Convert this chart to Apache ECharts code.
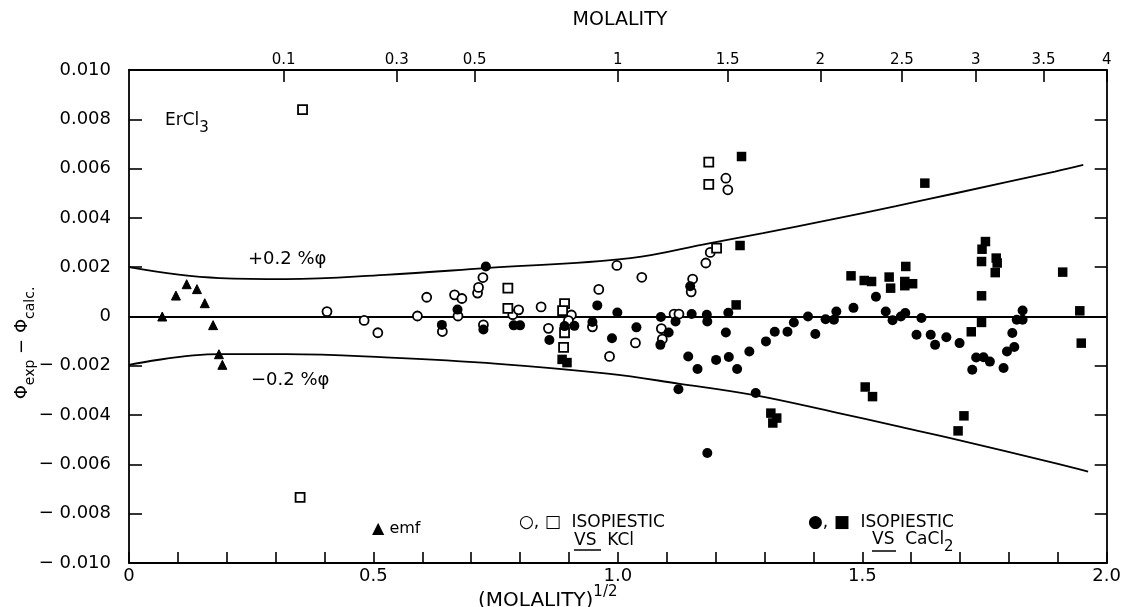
<!DOCTYPE html>
<html>
<head>
<meta charset="utf-8">
<script src="https://cdn.jsdelivr.net/npm/echarts@6/dist/echarts.min.js"></script>
<style>
html,body{margin:0;padding:0;background:#fff;}
#chart{width:1124px;height:607px;}
</style>
</head>
<body>
<div id="chart"></div>
<script>
// ---- data: x = (molality)^1/2, y = phi_exp - phi_calc ----
var topTickMolality = [0.1, 0.3, 0.5, 1, 1.5, 2, 2.5, 3, 3.5, 4];
var topTickLabels = ['0.1', '0.3', '0.5', '1', '1.5', '2', '2.5', '3', '3.5', '4'];

var upperBandX = [0, 0.185, 0.321, 0.524, 0.728, 1.026, 1.189, 1.297, 1.433, 1.569, 1.691, 1.894, 1.952];
var upperBandY = [0.00200, 0.00156, 0.00152, 0.00169, 0.00196, 0.00237, 0.00298, 0.00338, 0.00392, 0.00448, 0.00500, 0.00588, 0.00615];
var lowerBandX = [0, 0.185, 0.321, 0.524, 0.755, 0.979, 1.124, 1.282, 1.447, 1.569, 1.691, 1.894, 1.962];
var lowerBandY = [-0.00196, -0.00153, -0.00153, -0.00166, -0.00192, -0.00232, -0.00272, -0.00320, -0.00390, -0.00444, -0.00498, -0.00595, -0.00629];

var emfPoints = [
  [0.068, 0.00000], [0.096, 0.00085], [0.118, 0.00131], [0.139, 0.00111],
  [0.155, 0.00054], [0.172, -0.00035], [0.184, -0.00153], [0.191, -0.00196]
];

var kclCircles = [
  [0.405, 0.00020], [0.481, -0.00016], [0.509, -0.00066], [0.590, 0.00002],
  [0.609, 0.00078], [0.666, 0.00088], [0.681, 0.00073], [0.673, 0.00002],
  [0.641, -0.00061], [0.713, 0.00095], [0.715, 0.00118], [0.724, 0.00158],
  [0.725, -0.00034], [0.785, 0.00007], [0.797, 0.00027], [0.843, 0.00039],
  [0.858, -0.00048], [0.905, 0.00006], [0.899, -0.00017], [0.961, 0.00110],
  [0.948, -0.00042], [0.983, -0.00162], [0.998, 0.00207], [1.049, 0.00159],
  [1.036, -0.00107], [1.089, -0.00049], [1.091, -0.00092], [1.115, 0.00010],
  [1.125, 0.00010], [1.153, 0.00152], [1.150, 0.00100], [1.180, 0.00217],
  [1.189, 0.00260], [1.221, 0.00561], [1.225, 0.00514]
];

var kclSquares = [
  [0.355, 0.00839], [0.350, -0.00734], [0.775, 0.00115], [0.775, 0.00033],
  [0.891, 0.00052], [0.887, 0.00024], [0.891, -0.00066], [0.889, -0.00125],
  [1.202, 0.00277], [1.186, 0.00626], [1.186, 0.00536]
];

var cacl2Circles = [
  [0.730, 0.00203], [0.640, -0.00034], [0.672, 0.00028], [0.725, -0.00053],
  [0.787, -0.00036], [0.800, -0.00036], [0.860, -0.00095], [0.891, -0.00039],
  [0.911, -0.00038], [0.958, 0.00045], [0.948, -0.00022], [0.988, -0.00088],
  [0.999, 0.00016], [1.038, -0.00044], [1.088, -0.00002], [1.118, -0.00020],
  [1.104, -0.00065], [1.087, -0.00115], [1.148, 0.00123], [1.151, 0.00010],
  [1.182, 0.00007], [1.183, -0.00020], [1.226, 0.00015], [1.221, -0.00065],
  [1.144, -0.00162], [1.163, -0.00213], [1.201, -0.00176], [1.227, -0.00164],
  [1.244, -0.00213], [1.269, -0.00142], [1.303, -0.00101], [1.321, -0.00062],
  [1.347, -0.00062], [1.360, -0.00024], [1.389, 0.00000], [1.404, -0.00071],
  [1.425, -0.00011], [1.442, -0.00013], [1.447, 0.00020], [1.482, 0.00035],
  [1.528, 0.00080], [1.548, 0.00020], [1.562, -0.00015], [1.579, 0.00000],
  [1.588, 0.00014], [1.621, -0.00006], [1.611, -0.00074], [1.640, -0.00074],
  [1.649, -0.00115], [1.672, -0.00084], [1.699, -0.00108], [1.733, -0.00166],
  [1.748, -0.00165], [1.761, -0.00183], [1.725, -0.00216], [1.789, -0.00209],
  [1.796, -0.00142], [1.811, -0.00124], [1.807, -0.00067], [1.816, -0.00013],
  [1.828, -0.00013], [1.828, 0.00024], [1.124, -0.00295], [1.282, -0.00310],
  [1.183, -0.00554]
];

var cacl2Squares = [
  [1.250, 0.00288], [1.253, 0.00649], [1.242, 0.00047], [0.886, -0.00174],
  [0.896, -0.00187], [1.313, -0.00392], [1.325, -0.00412], [1.317, -0.00432],
  [1.628, 0.00541], [1.477, 0.00165], [1.504, 0.00146], [1.519, 0.00142],
  [1.555, 0.00160], [1.558, 0.00115], [1.589, 0.00203], [1.587, 0.00142],
  [1.603, 0.00133], [1.587, 0.00125], [1.723, -0.00062], [1.744, -0.00024],
  [1.744, 0.00084], [1.744, 0.00223], [1.745, 0.00273], [1.752, 0.00304],
  [1.774, 0.00237], [1.776, 0.00217], [1.772, 0.00178], [1.910, 0.00180],
  [1.945, 0.00023], [1.948, -0.00108], [1.506, -0.00286], [1.521, -0.00325],
  [1.708, -0.00403], [1.696, -0.00464]
];

function zip(xs, ys) { return xs.map(function (x, i) { return [x, ys[i]]; }); }

var FONT = 'DejaVu Sans';
var axisLineStyle = { color: '#000', width: 1.8 };
var tickStyle = { color: '#000', width: 1.6 };

var chart = echarts.init(document.getElementById('chart'), null, { renderer: 'canvas' });

var option = {
  backgroundColor: '#fff',
  animation: false,
  grid: { left: 129, right: 12, top: 70, bottom: 44, containLabel: false },
  xAxis: [
    {
      type: 'value', position: 'bottom', min: 0, max: 2, interval: 0.5,
      axisLine: { show: true, onZero: false, lineStyle: axisLineStyle },
      axisTick: { show: true, inside: true, length: 11, lineStyle: tickStyle },
      minorTick: { show: true, splitNumber: 5, length: 11, lineStyle: tickStyle },
      splitLine: { show: false },
      axisLabel: {
        color: '#000', fontFamily: FONT, fontSize: 18, margin: 4,
        formatter: function (v) { return v === 0 ? '0' : v.toFixed(1); }
      }
    },
    {
      type: 'value', position: 'top', min: 0, max: 2,
      axisLine: { show: true, onZero: false, lineStyle: axisLineStyle },
      axisTick: { show: true, inside: true, length: 12, lineStyle: tickStyle,
        customValues: topTickMolality.map(Math.sqrt) },
      splitLine: { show: false },
      axisLabel: {
        color: '#000', fontFamily: FONT, fontSize: 15, margin: 2,
        customValues: topTickMolality.map(Math.sqrt),
        formatter: function (v) {
          for (var i = 0; i < topTickMolality.length; i++) {
            if (Math.abs(Math.sqrt(topTickMolality[i]) - v) < 1e-6) return topTickLabels[i];
          }
          return '';
        }
      }
    }
  ],
  yAxis: [
    {
      type: 'value', position: 'left', min: -0.01, max: 0.01, interval: 0.002,
      axisLine: { show: true, onZero: false, lineStyle: axisLineStyle },
      axisTick: { show: true, inside: true, length: 13, lineStyle: tickStyle },
      splitLine: { show: false },
      axisLabel: {
        color: '#000', fontFamily: FONT, fontSize: 18, margin: 18,
        formatter: function (v) {
          if (Math.abs(v) < 1e-9) return '0';
          return (v < 0 ? '\u2212 ' : '') + Math.abs(v).toFixed(3);
        }
      }
    },
    {
      type: 'value', position: 'right', min: -0.01, max: 0.01, interval: 0.002,
      axisLine: { show: true, onZero: false, lineStyle: axisLineStyle },
      axisTick: { show: true, inside: true, length: 12, lineStyle: tickStyle },
      splitLine: { show: false },
      axisLabel: { show: false }
    }
  ],
  series: [
    {
      name: '+0.2% phi', type: 'line', xAxisIndex: 0, yAxisIndex: 0,
      data: zip(upperBandX, upperBandY), smooth: 0.4, showSymbol: false, symbol: 'none',
      lineStyle: { color: '#000', width: 1.8 }, silent: true, z: 2,
      markLine: {
        silent: true, symbol: ['none', 'none'], label: { show: false },
        lineStyle: { color: '#000', width: 1.8, type: 'solid' },
        data: [{ yAxis: 0 }]
      }
    },
    {
      name: '-0.2% phi', type: 'line', xAxisIndex: 0, yAxisIndex: 0,
      data: zip(lowerBandX, lowerBandY), smooth: 0.4, showSymbol: false, symbol: 'none',
      lineStyle: { color: '#000', width: 1.8 }, silent: true, z: 2
    },
    {
      name: 'emf', type: 'scatter', data: emfPoints, symbol: 'triangle', symbolSize: 9,
      itemStyle: { color: '#000', borderColor: '#000', borderWidth: 1, opacity: 1 }, z: 5
    },
    {
      name: 'isopiestic vs KCl (circle)', type: 'scatter', data: kclCircles, symbol: 'circle', symbolSize: 9,
      itemStyle: { color: '#fff', borderColor: '#000', borderWidth: 1.8, opacity: 1 }, z: 5
    },
    {
      name: 'isopiestic vs KCl (square)', type: 'scatter', data: kclSquares, symbol: 'rect', symbolSize: 9,
      itemStyle: { color: '#fff', borderColor: '#000', borderWidth: 1.8, opacity: 1 }, z: 5
    },
    {
      name: 'isopiestic vs CaCl2 (circle)', type: 'scatter', data: cacl2Circles, symbol: 'circle', symbolSize: 10,
      itemStyle: { color: '#000', opacity: 1 }, z: 6
    },
    {
      name: 'isopiestic vs CaCl2 (square)', type: 'scatter', data: cacl2Squares, symbol: 'rect', symbolSize: 9.5,
      itemStyle: { color: '#000', opacity: 1 }, z: 6
    }
  ],
  graphic: [
    { type: 'text', x: 620, y: 20, style: { text: 'MOLALITY', fill: '#000', font: '19px ' + FONT, textAlign: 'center', textVerticalAlign: 'middle' } },
    { type: 'text', x: 478, y: 598, style: {
        text: '{a|(MOLALITY)}{s|1/2}', fill: '#000', textVerticalAlign: 'middle',
        rich: {
          a: { fontFamily: FONT, fontSize: 20, fill: '#000', lineHeight: 26, verticalAlign: 'bottom' },
          s: { fontFamily: FONT, fontSize: 15, fill: '#000', lineHeight: 26, verticalAlign: 'top' }
        } } },
    { type: 'text', x: 25, y: 343, rotation: Math.PI / 2, style: {
        text: '{a|\u03A6}{s|exp}{a| \u2212 \u03A6}{s|calc.}', fill: '#000',
        textAlign: 'center', textVerticalAlign: 'middle',
        rich: {
          a: { fontFamily: FONT, fontSize: 18, fill: '#000', lineHeight: 24, verticalAlign: 'top' },
          s: { fontFamily: FONT, fontSize: 14, fill: '#000', lineHeight: 24, verticalAlign: 'bottom' }
        } } },
    { type: 'text', x: 165, y: 124, style: {
        text: '{a|ErCl}{s|3}', fill: '#000', textVerticalAlign: 'middle',
        rich: {
          a: { fontFamily: FONT, fontSize: 17, fill: '#000', lineHeight: 24, verticalAlign: 'top' },
          s: { fontFamily: FONT, fontSize: 15, fill: '#000', lineHeight: 24, verticalAlign: 'bottom' }
        } } },
    { type: 'text', x: 248, y: 259, style: { text: '+0.2 %\u03C6', fill: '#000', font: '18px ' + FONT, textVerticalAlign: 'middle' } },
    { type: 'text', x: 251, y: 380, style: { text: '\u22120.2 %\u03C6', fill: '#000', font: '18px ' + FONT, textVerticalAlign: 'middle' } },
    { type: 'text', x: 372, y: 529, style: { text: '\u25B2 emf', fill: '#000', font: '16px ' + FONT, textVerticalAlign: 'middle' } },
    { type: 'text', x: 519, y: 523, style: { text: '\u25CB, \u25A1  ISOPIESTIC', fill: '#000', font: '17px ' + FONT, textVerticalAlign: 'middle' } },
    { type: 'text', x: 574, y: 541, style: { text: 'VS  KCl', fill: '#000', font: '17px ' + FONT, textVerticalAlign: 'middle' } },
    { type: 'line', shape: { x1: 574, y1: 550, x2: 601, y2: 550 }, style: { stroke: '#000', lineWidth: 1.5 } },
    { type: 'text', x: 808, y: 523, style: { text: '\u25CF, \u25A0  ISOPIESTIC', fill: '#000', font: '17px ' + FONT, textVerticalAlign: 'middle' } },
    { type: 'text', x: 872, y: 543, style: {
        text: '{a|VS  CaCl}{s|2}', fill: '#000', textVerticalAlign: 'middle',
        rich: {
          a: { fontFamily: FONT, fontSize: 17, fill: '#000', lineHeight: 24, verticalAlign: 'top' },
          s: { fontFamily: FONT, fontSize: 15, fill: '#000', lineHeight: 24, verticalAlign: 'bottom' }
        } } },
    { type: 'line', shape: { x1: 872, y1: 551, x2: 896, y2: 551 }, style: { stroke: '#000', lineWidth: 1.5 } }
  ]
};

chart.setOption(option);
</script>
</body>
</html>
